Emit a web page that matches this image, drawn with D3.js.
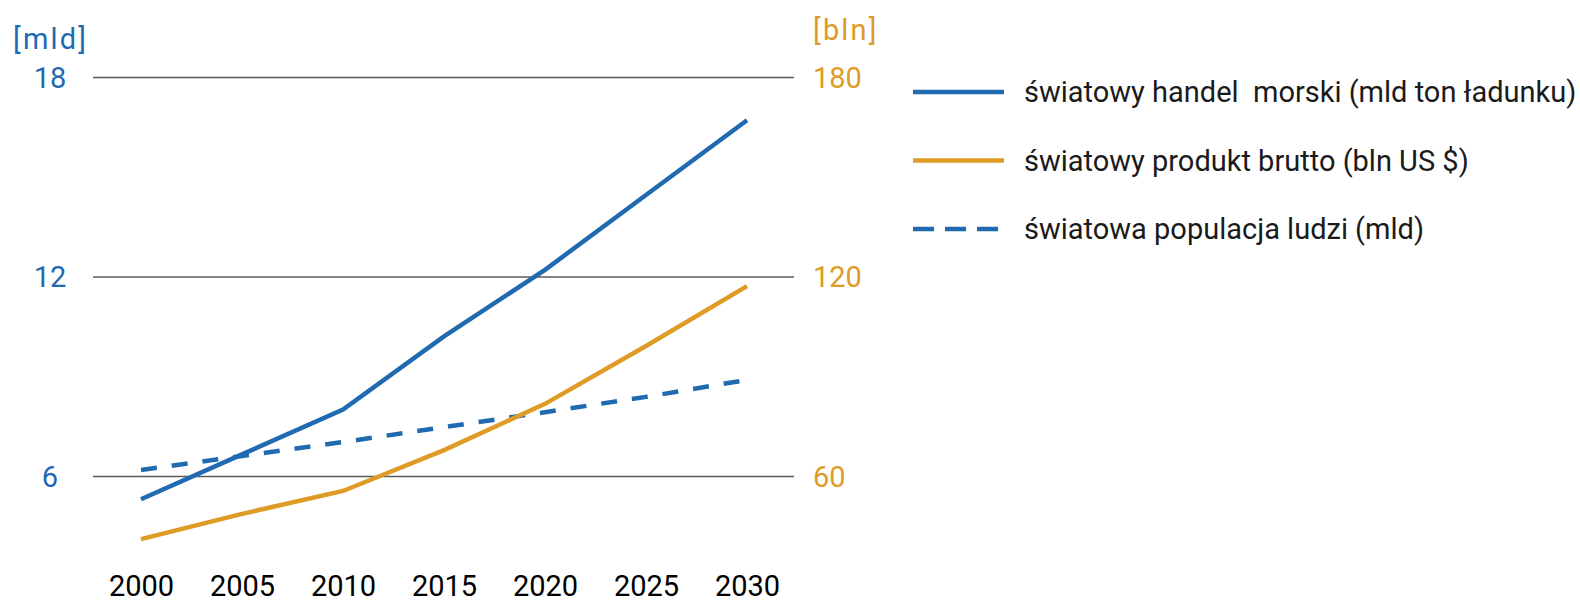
<!DOCTYPE html>
<html>
<head>
<meta charset="utf-8">
<script src="https://cdn.jsdelivr.net/npm/d3@7"></script>
<style>
  html, body { margin: 0; padding: 0; background: #ffffff; }
  svg { display: block; }
  text { font-family: Roboto, "Noto Sans", sans-serif; }
</style>
</head>
<body>
<svg id="chart" width="1580" height="603"></svg>
<script>
// Years on the horizontal axis
const years = [2000, 2005, 2010, 2015, 2020, 2025, 2030];

// World seaborne trade, billion tonnes of cargo (left axis)
const seaTrade = [5.3, 6.65, 8.0, 10.2, 12.2, 14.45, 16.7];
// Gross world product, trillion US $ (right axis)
const worldProduct = [41, 48.6, 55.5, 67.8, 81.7, 99.1, 117.1];
// World population, billions (left axis)
const population = [6.18, 6.6, 7.02, 7.47, 7.92, 8.38, 8.89];

// Axis ticks and unit captions
const leftTicks = [6, 12, 18];
const rightTicks = [60, 120, 180];
const leftUnit = "[mld]";
const rightUnit = "[bln]";

// Legend entries
const legendLabels = [
  "światowy handel  morski (mld ton ładunku)",
  "światowy produkt brutto (bln US $)",
  "światowa populacja ludzi (mld)"
];

const BLUE = "#1f6ab1";
const ORANGE = "#de9b25";

const svg = d3.select("#chart");
svg.append("rect").attr("width", 1580).attr("height", 603).attr("fill", "#fff");

const plotLeft = 93, plotRight = 794;

const x = d3.scaleLinear().domain([2000, 2030]).range([141, 747]);
const yL = d3.scaleLinear().domain([6, 18]).range([476, 77]);
const yR = d3.scaleLinear().domain([60, 180]).range([476, 77]);

// Gridlines with left tick labels
const leftAxis = svg.append("g")
  .attr("transform", `translate(${plotLeft},0)`)
  .call(d3.axisLeft(yL).tickValues(leftTicks).tickSize(-(plotRight - plotLeft)).tickFormat(d3.format("d")));
leftAxis.select(".domain").remove();
leftAxis.selectAll(".tick line").attr("stroke", "#5a5a5a").attr("stroke-width", 1.6);
leftAxis.selectAll(".tick text")
  .attr("x", -43)
  .attr("dy", "0.36em")
  .attr("text-anchor", "middle")
  .attr("fill", BLUE)
  .attr("font-size", 29);

// Right tick labels
const rightAxis = svg.append("g")
  .attr("transform", `translate(${plotRight},0)`)
  .call(d3.axisRight(yR).tickValues(rightTicks).tickSize(0).tickPadding(19).tickFormat(d3.format("d")));
rightAxis.select(".domain").remove();
rightAxis.selectAll(".tick text")
  .attr("dy", "0.36em")
  .attr("fill", ORANGE)
  .attr("font-size", 29);

// Unit captions
svg.append("text").attr("x", 13).attr("y", 39).attr("dy", "0.36em")
  .attr("fill", BLUE).attr("font-size", 29).attr("letter-spacing", 2.2).text(leftUnit);
svg.append("text").attr("x", 813).attr("y", 30).attr("dy", "0.36em")
  .attr("fill", ORANGE).attr("font-size", 29).attr("letter-spacing", 2.2).text(rightUnit);

// Year labels
const bottomAxis = svg.append("g")
  .attr("transform", "translate(0,586)")
  .call(d3.axisBottom(x).tickValues(years).tickSize(0).tickPadding(0).tickFormat(d3.format("d")));
bottomAxis.select(".domain").remove();
bottomAxis.selectAll(".tick text")
  .attr("y", 0)
  .attr("dy", "0.36em")
  .attr("fill", "#000")
  .attr("font-size", 29)
  .attr("font-weight", 400);

// Series lines
const lineL = d3.line().x((d, i) => x(years[i])).y(d => yL(d));
const lineR = d3.line().x((d, i) => x(years[i])).y(d => yR(d));

svg.append("path").datum(population)
  .attr("d", lineL).attr("fill", "none")
  .attr("stroke", BLUE).attr("stroke-width", 4.5)
  .attr("stroke-dasharray", "16,15");

svg.append("path").datum(worldProduct)
  .attr("d", lineR).attr("fill", "none")
  .attr("stroke", ORANGE).attr("stroke-width", 4.5);

svg.append("path").datum(seaTrade)
  .attr("d", lineL).attr("fill", "none")
  .attr("stroke", BLUE).attr("stroke-width", 4.5);

// Legend
const legendStyles = [
  { color: BLUE, dash: null },
  { color: ORANGE, dash: null },
  { color: BLUE, dash: "21,11" }
];
const legendY = d3.scalePoint().domain(d3.range(legendLabels.length)).range([92, 229]);
const legend = svg.append("g");
legendLabels.forEach((label, i) => {
  const yy = legendY(i);
  legend.append("line")
    .attr("x1", 913).attr("x2", 1004).attr("y1", yy).attr("y2", yy)
    .attr("stroke", legendStyles[i].color).attr("stroke-width", 4.5)
    .attr("stroke-dasharray", legendStyles[i].dash);
  legend.append("text")
    .attr("x", 1024).attr("y", yy + 10)
    .attr("fill", "#1a1a1a")
    .attr("font-size", 29)
    .style("white-space", "pre")
    .text(label);
});
</script>
</body>
</html>
